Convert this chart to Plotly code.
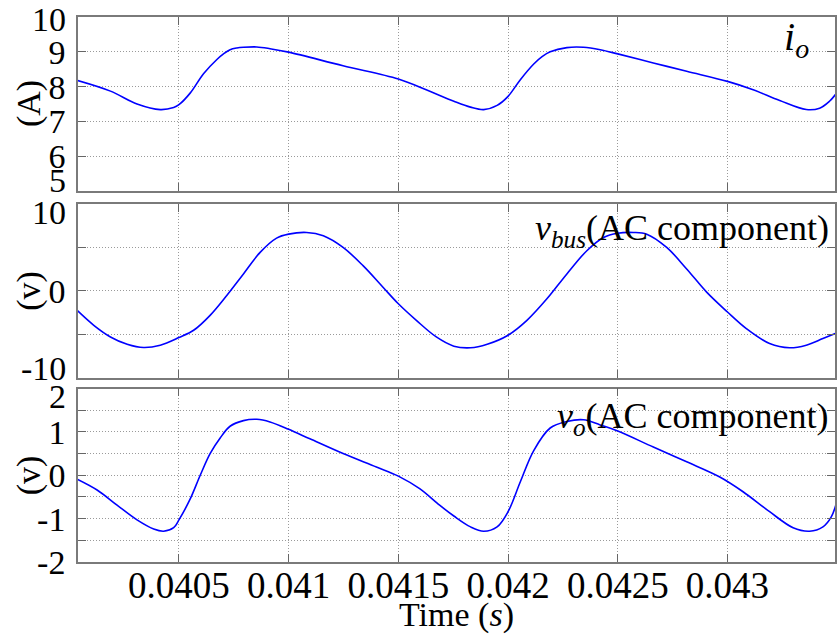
import plotly.graph_objects as go

# Output current i_o (A)
t_io = [0.040036, 0.040188, 0.040309, 0.040415, 0.040476, 0.0405, 0.040552, 0.040612,
        0.040673, 0.040703, 0.040733, 0.040764, 0.040794, 0.040855, 0.040915, 0.041,
        0.041248, 0.0415, 0.041627, 0.041753, 0.041829, 0.041889,
        0.04195, 0.042, 0.042056, 0.042117, 0.042155, 0.042192, 0.042268, 0.042344,
        0.04242, 0.0425, 0.042662, 0.042814, 0.043, 0.043117, 0.043238, 0.043359,
        0.04342, 0.043465, 0.043498]
io = [8.18, 7.87, 7.50, 7.34, 7.40, 7.48, 7.82, 8.37,
      8.78, 8.94, 9.06, 9.11, 9.13, 9.14, 9.09, 8.99,
      8.60, 8.22, 7.91, 7.58, 7.41, 7.34,
      7.46, 7.72, 8.20, 8.65, 8.86, 9.00, 9.12, 9.13,
      9.06, 8.94, 8.68, 8.44, 8.15, 7.91, 7.60, 7.34,
      7.38, 7.58, 7.82]

# Bus voltage, AC component (V)
t_vbus = [0.040036, 0.040112, 0.040188, 0.040264, 0.040339, 0.040415, 0.0405, 0.040567,
          0.040642, 0.040718, 0.040794, 0.04087, 0.040945, 0.041, 0.041082, 0.041158,
          0.041248, 0.041339, 0.04143, 0.0415, 0.041582, 0.041673, 0.041753, 0.041829,
          0.041905, 0.042, 0.042086, 0.042177, 0.042268, 0.042359, 0.042435, 0.0425,
          0.042571, 0.042632, 0.042723, 0.042814, 0.042905, 0.043, 0.043086, 0.043192,
          0.043283, 0.043359, 0.043435, 0.043498]
vbus = [-2.25, -3.97, -5.31, -6.15, -6.53, -6.26, -5.38, -4.54,
        -2.82, -0.53, 1.95, 4.43, 6.07, 6.53, 6.72, 6.34,
        5.0, 2.90, 0.42, -1.49, -3.40, -5.31, -6.37, -6.56,
        -6.15, -5.11, -3.40, -0.92, 1.95, 4.62, 6.15, 6.64,
        6.72, 6.53, 5.0, 2.52, -0.15, -2.44, -4.35, -6.07,
        -6.56, -6.26, -5.50, -4.85]

# Output voltage, AC component (V)
t_vo = [0.040036, 0.040127, 0.040218, 0.040309, 0.040385, 0.04043, 0.040476, 0.0405,
        0.040552, 0.040597, 0.040642, 0.040688, 0.040733, 0.040794, 0.040855, 0.040915,
        0.041, 0.041097, 0.041248, 0.0414, 0.0415, 0.041597, 0.041688, 0.041753,
        0.041829, 0.041889, 0.04195, 0.042, 0.042056, 0.042117, 0.042192, 0.042268,
        0.042344, 0.04242, 0.0425, 0.042662, 0.042814, 0.042965, 0.043071, 0.043192,
        0.043299, 0.043374, 0.043435, 0.043473, 0.043498]
vo = [-0.09, -0.34, -0.69, -1.03, -1.24, -1.29, -1.21, -1.03,
      -0.54, 0.0, 0.50, 0.86, 1.13, 1.26, 1.29, 1.23,
      1.06, 0.84, 0.50, 0.19, -0.02, -0.31, -0.69, -0.94,
      -1.19, -1.29, -1.19, -0.84, -0.15, 0.57, 1.09, 1.24,
      1.28, 1.16, 1.02, 0.65, 0.31, -0.04, -0.38, -0.84,
      -1.21, -1.29, -1.19, -0.96, -0.61]

x_ticks = [0.0405, 0.041, 0.0415, 0.042, 0.0425, 0.043]
x_tick_text = ["0.0405", "0.041", "0.0415", "0.042", "0.0425", "0.043"]
io_ticks = [5, 6, 7, 8, 9, 10]
io_tick_text = ["", "6", "7", "8", "9", ""]
vbus_ticks = [-10, -5, 0, 5, 10]
vbus_tick_text = ["", "", "0", "", ""]
vo_ticks = [-2, -1.5, -1, -0.5, 0, 0.5, 1, 1.5, 2]
vo_tick_text = ["-2", "", "-1", "", "0", "", "1", "", ""]

# Panel-edge tick labels, nudged inward (px, positive = up) so that
# labels of neighbouring panels don't collide: (axis, value, text, nudge)
edge_labels = [("y", 10, "10", -2), ("y", 5, "5", 11),
               ("y2", 10, "10", -9), ("y2", -10, "-10", 9),
               ("y3", 2, "2", -8)]

FONT = "Liberation Serif, Times New Roman, serif"
FS = 34
FS_X = 37
LINE = dict(color="#0000ff", width=1.6, shape="spline", smoothing=1.0)

fig = go.Figure()
fig.add_trace(go.Scatter(x=t_io, y=io, mode="lines", line=LINE, xaxis="x", yaxis="y", showlegend=False))
fig.add_trace(go.Scatter(x=t_vbus, y=vbus, mode="lines", line=LINE, xaxis="x2", yaxis="y2", showlegend=False))
fig.add_trace(go.Scatter(x=t_vo, y=vo, mode="lines", line=LINE, xaxis="x3", yaxis="y3", showlegend=False))

x_range = [0.04004, 0.04349]
GRID = dict(showgrid=True, gridcolor="#9a9a9a", gridwidth=1, griddash="1px,2px")
common_x = dict(
    range=x_range, tickvals=x_ticks, ticktext=x_tick_text,
    ticks="inside", ticklen=8, tickwidth=1.2, tickcolor="#666666",
    showline=True, linecolor="#7a7a7a", linewidth=1.5, mirror="ticks",
    zeroline=False, tickfont=dict(family=FONT, size=FS_X, color="black"), **GRID,
)
common_y = dict(
    ticks="inside", ticklen=8, tickwidth=1.2, tickcolor="#666666",
    showline=True, linecolor="#7a7a7a", linewidth=1.5, mirror="ticks",
    zeroline=False, tickfont=dict(family=FONT, size=FS, color="black"),
    ticklabelstandoff=4, **GRID,
)

fig.update_layout(
    width=838, height=634,
    margin=dict(l=78, r=1, t=17, b=72),
    paper_bgcolor="white", plot_bgcolor="white",
    font=dict(family=FONT, size=FS, color="black"),
    xaxis=dict(common_x, anchor="y", showticklabels=False),
    xaxis2=dict(common_x, anchor="y2", matches="x", showticklabels=False),
    xaxis3=dict(common_x, anchor="y3", matches="x", showticklabels=True, ticklabelstandoff=-10,
                title=dict(text="Time (<i>s</i>)", font=dict(family=FONT, size=FS), standoff=3)),
    yaxis=dict(common_y, domain=[0.6807, 1.0], anchor="x", range=[5, 10],
               tickvals=io_ticks, ticktext=io_tick_text),
    yaxis2=dict(common_y, domain=[0.3382, 0.6569], anchor="x2", range=[-10, 10],
                tickvals=vbus_ticks, ticktext=vbus_tick_text),
    yaxis3=dict(common_y, domain=[0.0, 0.3183], anchor="x3", range=[-2, 2],
                tickvals=vo_ticks, ticktext=vo_tick_text),
)

for yref, val, txt, nudge in edge_labels:
    fig.add_annotation(text=txt, xref="paper", x=0, xanchor="right", xshift=-10,
                       yref=yref, y=val, yanchor="middle", yshift=nudge,
                       showarrow=False, font=dict(family=FONT, size=FS, color="black"))

# Rotated unit labels on the left of each panel
for yref, txt in [("y domain", "(A)"), ("y2 domain", "(v)"), ("y3 domain", "(v)")]:
    fig.add_annotation(text=txt, xref="paper", x=0, xshift=-49, xanchor="center",
                       yref=yref, y=0.5, yanchor="middle", textangle=-90,
                       showarrow=False, font=dict(family=FONT, size=FS, color="black"))

# Signal names in the upper-right corner of each panel
fig.add_annotation(text="<i>i</i><sub><i>o</i></sub>", xref="paper", x=1, xanchor="right", xshift=-24,
                   yref="y domain", y=0.875, yanchor="middle", showarrow=False,
                   font=dict(family=FONT, size=40, color="black"))
fig.add_annotation(text="<i>v</i><sub><i>bus</i></sub>(AC component)", xref="paper", x=1, xanchor="right",
                   xshift=-4, yref="y2 domain", y=0.845, yanchor="middle", showarrow=False,
                   font=dict(family=FONT, size=36, color="black"))
fig.add_annotation(text="<i>v</i><sub><i>o</i></sub>(AC component)", xref="paper", x=1, xanchor="right",
                   xshift=-4, yref="y3 domain", y=0.83, yanchor="middle", showarrow=False,
                   font=dict(family=FONT, size=36, color="black"))

fig.write_html("out.html")
